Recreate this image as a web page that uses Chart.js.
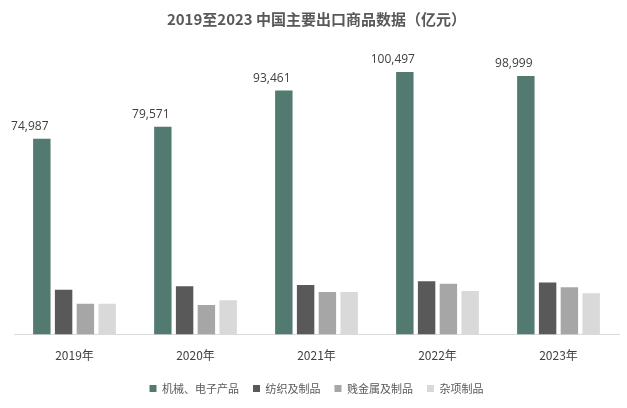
<!DOCTYPE html>
<html><head><meta charset="utf-8">
<script src="https://cdn.jsdelivr.net/npm/chart.js@4"></script>
<style>body{margin:0;background:#fff}#w{width:627px;height:408px}</style>
</head><body><div id="w"><canvas id="c"></canvas></div>
<script>
const categories=['2019年','2020年','2021年','2022年','2023年'];
const seriesNames=['机械、电子产品','纺织及制品','贱金属及制品','杂项制品'];
const machinery=[74987,79571,93461,100497,98999];
const textiles=[17200,18500,19000,20400,19900];
const metals=[11800,11300,16300,19500,18100];
const misc=[11800,13100,16300,16700,15800];
const colors=['#527a70','#595959','#a6a6a6','#d9d9d9'];
const labelPlugin={id:'lbl',afterDatasetsDraw(ch){const ctx=ch.ctx;const m=ch.getDatasetMeta(0);ctx.save();ctx.font='12px "Open Sans", "Noto Sans CJK SC"';ctx.fillStyle='#404040';ctx.textAlign='center';ctx.textBaseline='bottom';m.data.forEach((b,i)=>{ctx.fillText(machinery[i].toLocaleString('en-US'),b.x-12,b.y-6);});ctx.restore();}};
new Chart(document.getElementById('c'),{type:'bar',
data:{labels:categories,datasets:[machinery,textiles,metals,misc].map((d,i)=>({label:seriesNames[i],data:d,backgroundColor:colors[i]}))},
options:{responsive:true,maintainAspectRatio:false,animation:false,
layout:{padding:{left:14,right:8,top:4,bottom:4}},
datasets:{bar:{categoryPercentage:0.72,barPercentage:0.8}},
plugins:{title:{display:true,text:'2019至2023 中国主要出口商品数据（亿元）',color:'#595959',font:{size:15,weight:'bold',family:'"Noto Sans CJK SC"'},padding:{top:6,bottom:44}},
legend:{position:'bottom',labels:{boxWidth:7,boxHeight:7,color:'#595959',font:{size:11,family:'"Noto Sans CJK SC"'},padding:14}},tooltip:{enabled:false}},
scales:{x:{grid:{display:false},border:{color:'#d9d9d9'},ticks:{color:'#404040',font:{size:12,family:'"Noto Sans CJK SC"'},padding:6}},
y:{display:false,min:0,max:100497}}},plugins:[labelPlugin]});
</script></body></html>
